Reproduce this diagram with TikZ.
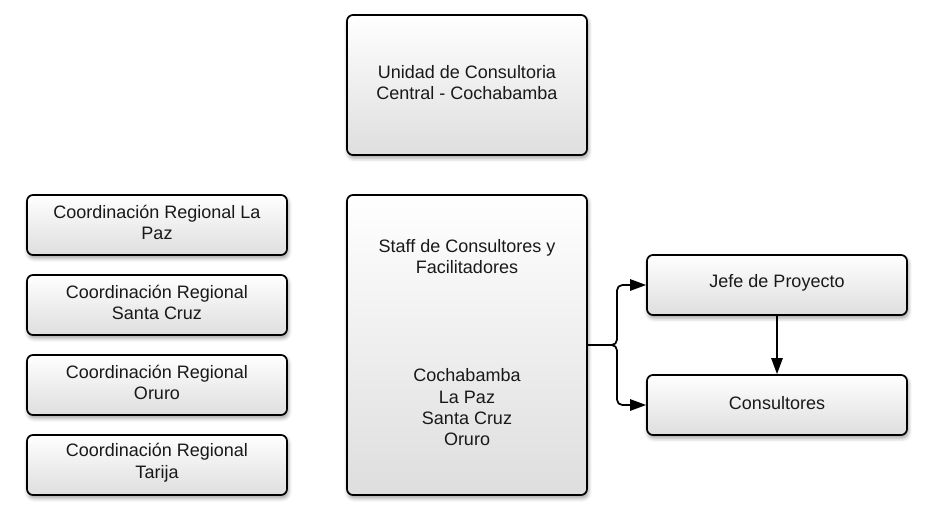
\documentclass[tikz,border=0pt]{standalone}
\usepackage{fontspec}
\setmainfont{Liberation Sans}
\usetikzlibrary{arrows.meta,shadows.blur}
\begin{document}
\begin{tikzpicture}[x=0.75pt,y=-0.75pt,
  box/.style={draw=black, line width=1.3pt, rounded corners=4.5pt,
    top color=white, bottom color=black!13,
    blur shadow={shadow xshift=0.8pt, shadow yshift=-2.2pt, shadow blur radius=3pt, shadow opacity=40},
    inner sep=0pt},
  lbl/.style={align=center, font=\fontsize{13.5}{16}\selectfont, text=black!90, inner sep=0pt, yshift=1.8pt},
  txt/.style={label={[lbl]center:{#1}}},
  smallbox/.style={box, minimum width=195pt, minimum height=45pt},
  conn/.style={line width=1.3pt, -{Triangle[length=12pt,width=8.5pt]}}]
\useasboundingbox (0,0) rectangle (938,525);
\node[box, minimum width=180pt, minimum height=105pt, txt={Unidad de Consultoria\\Central - Cochabamba}] (top) at (467,85) {};
\node[smallbox, txt={Coordinación Regional La\\Paz}] (lp) at (157,225) {};
\node[smallbox, txt={Coordinación Regional\\Santa Cruz}] (sc) at (157,305) {};
\node[smallbox, txt={Coordinación Regional\\Oruro}] (or) at (157,385) {};
\node[smallbox, txt={Coordinación Regional\\Tarija}] (ta) at (157,465) {};
\node[box, minimum width=180pt, minimum height=225pt, txt={Staff de Consultores y\\Facilitadores\\[65pt]Cochabamba\\La Paz\\Santa Cruz\\Oruro}] (staff) at (467,345) {};
\node[smallbox, txt={Jefe de Proyecto}] (jefe) at (777,285) {};
\node[smallbox, txt={Consultores}] (cons) at (777,405) {};
\coordinate (br) at (617,345);
\draw[conn, rounded corners=4pt] (staff.east) -- (br) |- (jefe.west);
\draw[conn, rounded corners=4pt] (staff.east) -- (br) |- (cons.west);
\draw[conn] (jefe.south) -- (cons.north);
\end{tikzpicture}
\end{document}
